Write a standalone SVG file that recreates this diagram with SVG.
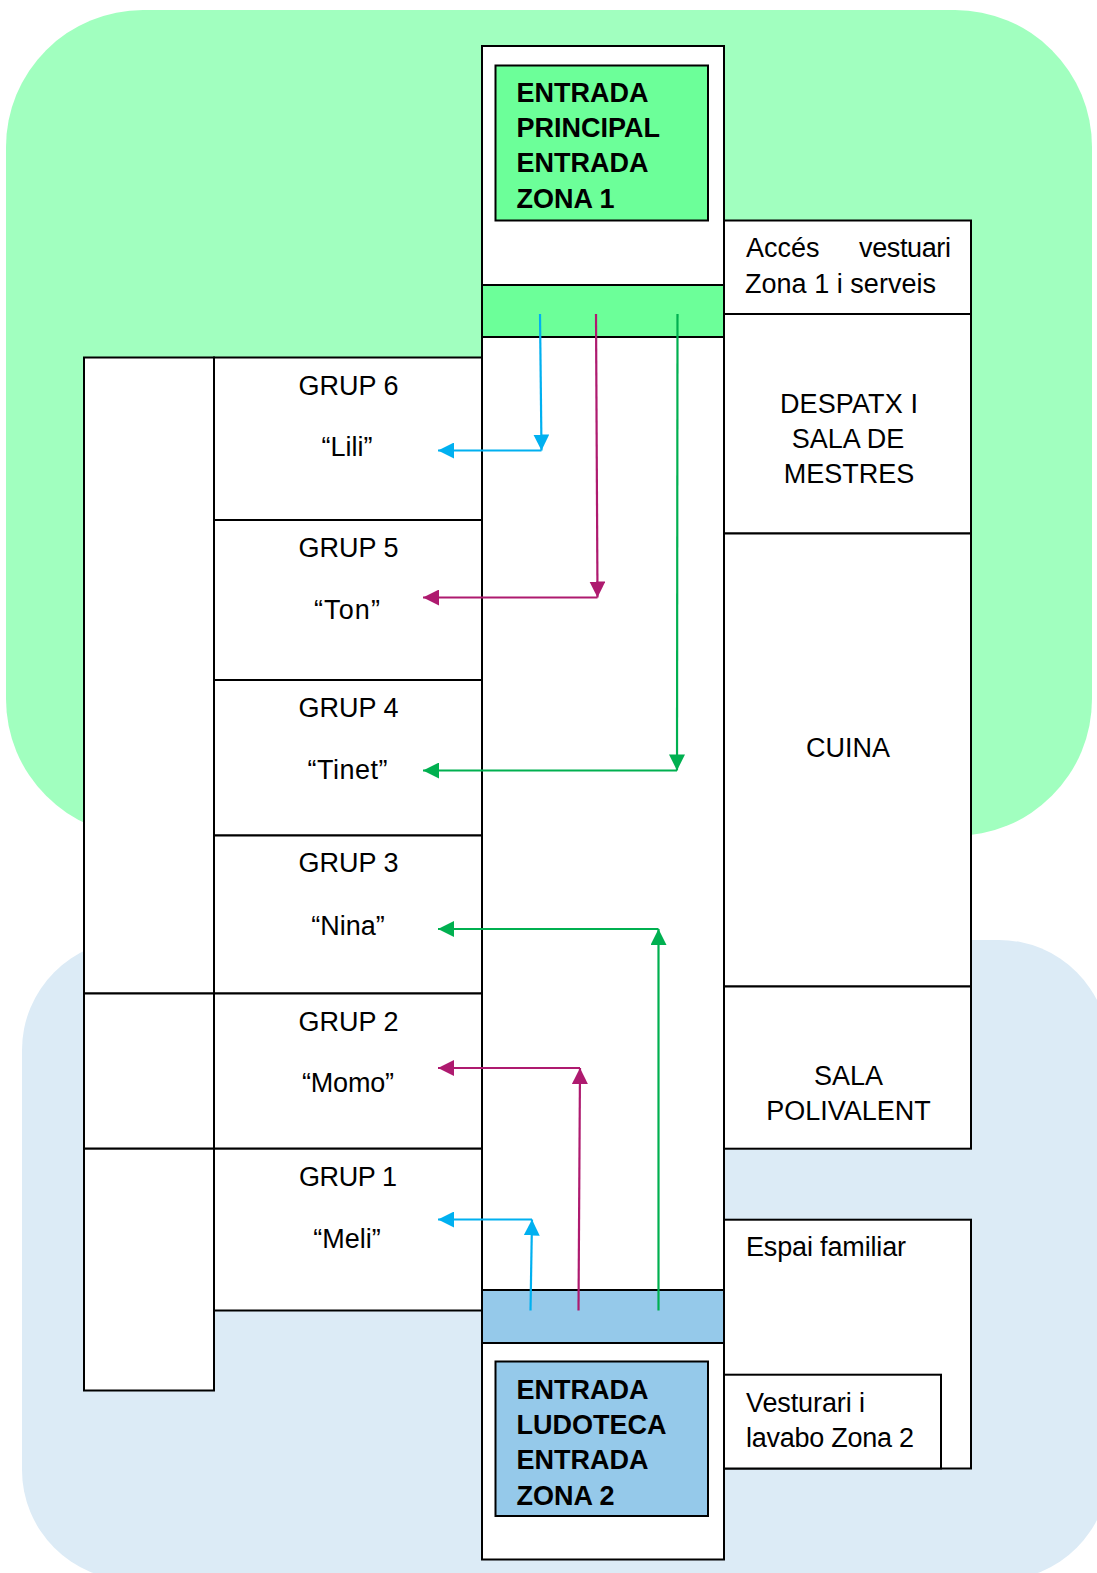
<svg xmlns="http://www.w3.org/2000/svg" width="1097" height="1573" viewBox="0 0 1097 1573">
<style>
.b{fill:#fff;stroke:#000;stroke-width:2}
.t{font-family:"Liberation Sans",Arial,sans-serif;font-size:27px;fill:#000}
.m{text-anchor:middle}
.h{font-weight:bold}
.c{fill:none;stroke-width:2.200}
.blue{stroke:#00b0f0}.mag{stroke:#ae1a6f}.grn{stroke:#00b050}
</style>
<defs>
<marker id="ab" markerUnits="userSpaceOnUse" markerWidth="16" markerHeight="16" refX="16" refY="8" orient="auto"><path d="M0 0L16 8L0 16Z" fill="#00b0f0"/></marker>
<marker id="am" markerUnits="userSpaceOnUse" markerWidth="16" markerHeight="16" refX="16" refY="8" orient="auto"><path d="M0 0L16 8L0 16Z" fill="#ae1a6f"/></marker>
<marker id="ag" markerUnits="userSpaceOnUse" markerWidth="16" markerHeight="16" refX="16" refY="8" orient="auto"><path d="M0 0L16 8L0 16Z" fill="#00b050"/></marker>
</defs>
<rect width="1097" height="1573" fill="#fff"/>
<g id="zona1"><rect x="6" y="10" width="1086" height="826" rx="137" ry="137" fill="#a1ffbf"/></g>
<g id="zona2"><rect x="22" y="940" width="1087" height="640" rx="110" ry="110" fill="#dcebf6"/></g>
<g id="col-esquerra">
<rect class="b" x="84" y="357.500" width="130" height="636"/>
<rect class="b" x="84" y="993.500" width="130" height="155.200"/>
<rect class="b" x="84" y="1148.700" width="130" height="241.800"/>
</g>
<g id="grup6"><rect class="b" x="214" y="357.500" width="268" height="162.500"/><text class="t m" x="348.500" y="395">GRUP 6</text><text class="t m" x="347" y="456">“Lili”</text></g>
<g id="grup5"><rect class="b" x="214" y="520" width="268" height="160"/><text class="t m" x="348.500" y="557">GRUP 5</text><text class="t m" x="347" y="619" textLength="66">“Ton”</text></g>
<g id="grup4"><rect class="b" x="214" y="680" width="268" height="155.500"/><text class="t m" x="348.500" y="717">GRUP 4</text><text class="t m" x="347.500" y="779" textLength="80">“Tinet”</text></g>
<g id="grup3"><rect class="b" x="214" y="835.500" width="268" height="158"/><text class="t m" x="348.500" y="872">GRUP 3</text><text class="t m" x="348" y="935">“Nina”</text></g>
<g id="grup2"><rect class="b" x="214" y="993.500" width="268" height="155.200"/><text class="t m" x="348.500" y="1031">GRUP 2</text><text class="t m" x="348" y="1092" textLength="92">“Momo”</text></g>
<g id="grup1"><rect class="b" x="214" y="1148.700" width="268" height="161.800"/><text class="t m" x="348" y="1186" textLength="98">GRUP 1</text><text class="t m" x="347" y="1248">“Meli”</text></g>
<g id="passadis"><rect class="b" x="482" y="46" width="242" height="1513.500"/></g>
<g id="franja-zona1"><rect x="482" y="285" width="242" height="52" fill="#6cff99" stroke="#000" stroke-width="2"/></g>
<g id="franja-zona2"><rect x="482" y="1290" width="242" height="53" fill="#95c9ea" stroke="#000" stroke-width="2"/></g>
<g id="entrada1"><rect x="495.500" y="65.500" width="212.500" height="155" fill="#6cff99" stroke="#000" stroke-width="2"/>
<text class="t h" x="516.500" y="102">ENTRADA</text><text class="t h" x="516.500" y="137">PRINCIPAL</text><text class="t h" x="516.500" y="172">ENTRADA</text><text class="t h" x="516.500" y="208">ZONA 1</text></g>
<g id="entrada2"><rect x="495.500" y="1361.500" width="212.500" height="154.500" fill="#95c9ea" stroke="#000" stroke-width="2"/>
<text class="t h" x="516.500" y="1399">ENTRADA</text><text class="t h" x="516.500" y="1434">LUDOTECA</text><text class="t h" x="516.500" y="1469">ENTRADA</text><text class="t h" x="516.500" y="1505">ZONA 2</text></g>
<g id="acces"><rect class="b" x="724" y="220.500" width="247" height="93.500"/><text class="t" x="746" y="257">Accés</text><text class="t" x="859" y="257" textLength="92">vestuari</text><text class="t" x="745" y="293" textLength="191">Zona 1 i serveis</text></g>
<g id="despatx"><rect class="b" x="724" y="314" width="247" height="219.500"/><text class="t m" x="849" y="413" textLength="138">DESPATX I</text><text class="t m" x="848" y="448">SALA DE</text><text class="t m" x="849" y="483">MESTRES</text></g>
<g id="cuina"><rect class="b" x="724" y="533.500" width="247" height="453"/><text class="t m" x="848" y="757">CUINA</text></g>
<g id="sala"><rect class="b" x="724" y="986.500" width="247" height="162.200"/><text class="t m" x="848.500" y="1085">SALA</text><text class="t m" x="848.500" y="1120">POLIVALENT</text></g>
<g id="espai"><rect class="b" x="724" y="1219.700" width="247" height="248.800"/><text class="t" x="746" y="1256" textLength="160">Espai familiar</text></g>
<g id="vesturari"><rect class="b" x="724" y="1374.700" width="217" height="93.800"/><text class="t" x="746" y="1412" textLength="119">Vesturari i</text><text class="t" x="746" y="1447" textLength="168">lavabo Zona 2</text></g>
<g id="connectors">
<path class="c blue" d="M540 314L541.500 450.500" marker-end="url(#ab)"/><path class="c blue" d="M541.500 450.500H438" marker-end="url(#ab)"/>
<path class="c mag" d="M596 314L597.500 597.500" marker-end="url(#am)"/><path class="c mag" d="M597.500 597.500H423" marker-end="url(#am)"/>
<path class="c grn" d="M677.500 314L677 770.500" marker-end="url(#ag)"/><path class="c grn" d="M677 770.500H423" marker-end="url(#ag)"/>
<path class="c grn" d="M658.500 1310.500V929" marker-end="url(#ag)"/><path class="c grn" d="M658.500 929H438" marker-end="url(#ag)"/>
<path class="c mag" d="M578.500 1310.500L580 1068" marker-end="url(#am)"/><path class="c mag" d="M580 1068H438" marker-end="url(#am)"/>
<path class="c blue" d="M530.500 1310.500L532 1219.500" marker-end="url(#ab)"/><path class="c blue" d="M532 1219.500H438" marker-end="url(#ab)"/>
</g>
</svg>
